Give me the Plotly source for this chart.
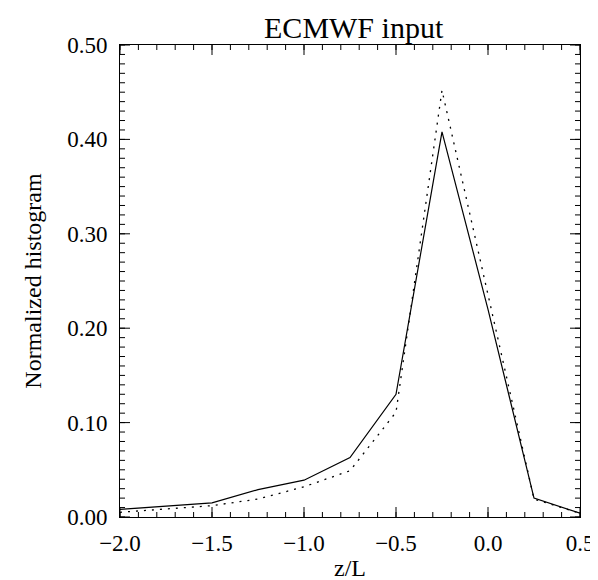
import plotly.graph_objects as go

# z/L bin centres
z_over_l = [-2.0, -1.5, -1.25, -1.0, -0.75, -0.5, -0.25, 0.0, 0.25, 0.5]
# normalized histograms
hist_solid = [0.008, 0.015, 0.029, 0.039, 0.063, 0.130, 0.408, 0.220, 0.020, 0.004]
hist_dotted = [0.005, 0.012, 0.019, 0.032, 0.049, 0.111, 0.452, 0.237, 0.019, 0.004]

# axis ticks (IDL style: major + minor, on all four sides, pointing inwards)
x_major = [-2.0, -1.5, -1.0, -0.5, 0.0, 0.5]
x_minor = [round(-2.0 + 0.1 * i, 2) for i in range(26)]
y_major = [0.0, 0.1, 0.2, 0.3, 0.4, 0.5]
y_minor = [round(0.01 * i, 2) for i in range(51)]

font_family = "Liberation Serif"

fig = go.Figure()
fig.add_trace(go.Scatter(x=z_over_l, y=hist_solid, mode='lines',
                         line=dict(color='black', width=1.2)))
fig.add_trace(go.Scatter(x=z_over_l, y=hist_dotted, mode='lines',
                         line=dict(color='black', width=1.3, dash='2px,6px')))

# inward ticks drawn as pixel-sized shapes anchored to the axes
tick_line = dict(color='black', width=1)
for vals, ln in ((x_minor, 5), (x_major, 10)):
    for v in vals:
        fig.add_shape(type='line', xref='x', yref='y domain', ysizemode='pixel', yanchor=0,
                      x0=v, x1=v, y0=0, y1=ln, line=tick_line)
        fig.add_shape(type='line', xref='x', yref='y domain', ysizemode='pixel', yanchor=1,
                      x0=v, x1=v, y0=0, y1=-ln, line=tick_line)
for vals, ln in ((y_minor, 5), (y_major, 10)):
    for v in vals:
        fig.add_shape(type='line', xref='x domain', yref='y', xsizemode='pixel', xanchor=0,
                      x0=0, x1=ln, y0=v, y1=v, line=tick_line)
        fig.add_shape(type='line', xref='x domain', yref='y', xsizemode='pixel', xanchor=1,
                      x0=0, x1=-ln, y0=v, y1=v, line=tick_line)

tick_font = dict(family=font_family, size=23, color='black')

fig.update_layout(
    width=598, height=580,
    margin=dict(l=112, r=20, t=37, b=63),
    paper_bgcolor='white', plot_bgcolor='white', showlegend=False,
    font=dict(family=font_family, color='black'),
    title=dict(text="ECMWF input", x=0.578, xanchor='center', y=0.967, yanchor='middle',
               font=dict(family=font_family, size=30, color='black')),
    xaxis=dict(range=[-2.0, 0.5], tickvals=x_major, tickformat='.1f',
               showgrid=False, zeroline=False, showline=True, linecolor='black', linewidth=1,
               mirror=True, ticks='outside', ticklen=5, tickcolor='rgba(0,0,0,0)',
               tickfont=tick_font,
               title=dict(text="z/L", font=dict(family=font_family, size=24, color='black'), standoff=4)),
    yaxis=dict(range=[0, 0.5], tickvals=y_major, tickformat='.2f',
               showgrid=False, zeroline=False, showline=True, linecolor='black', linewidth=1,
               mirror=True, ticks='outside', ticklen=7, tickcolor='rgba(0,0,0,0)',
               tickfont=tick_font,
               title=dict(text="Normalized histogram", font=dict(family=font_family, size=24, color='black'),
                          standoff=18)),
)

fig.write_html("out.html")
